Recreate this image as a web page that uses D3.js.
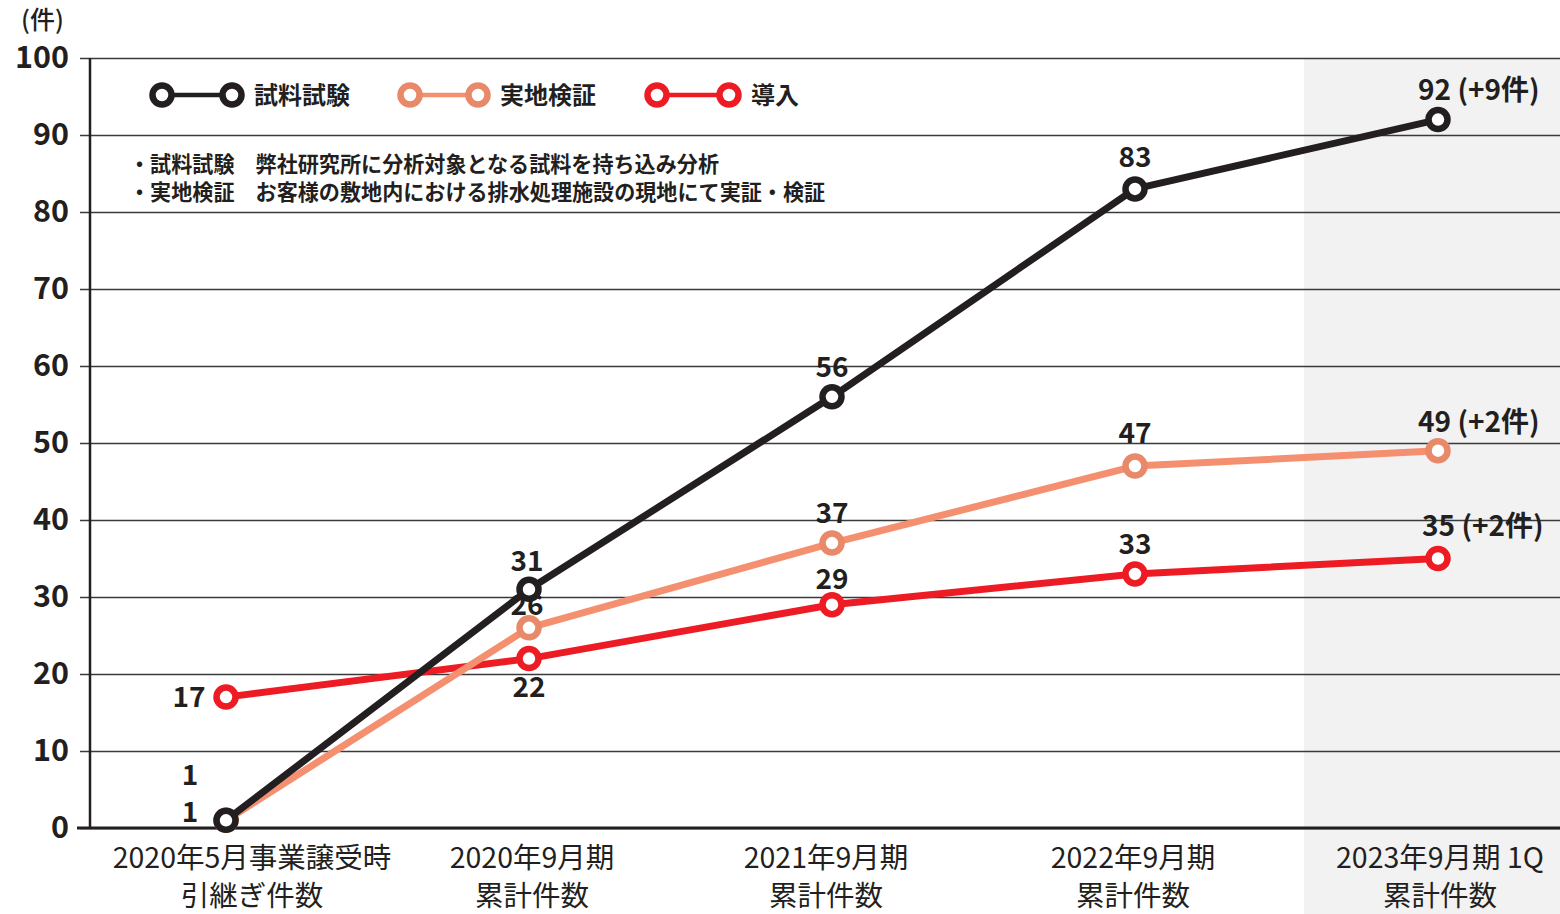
<!DOCTYPE html>
<html>
<head>
<meta charset="utf-8">
<script src="https://cdn.jsdelivr.net/npm/d3@7"></script>
<style>
  html, body { margin: 0; padding: 0; background: #ffffff; }
  svg { display: block; font-family: "Noto Sans CJK JP", "Noto Sans", sans-serif; }
</style>
</head>
<body>
<svg id="chart" width="1560" height="914"></svg>
<script>
// ---- data ----
const categoryLine1 = ["2020年5月事業譲受時", "2020年9月期", "2021年9月期", "2022年9月期", "2023年9月期 1Q"];
const categoryLine2 = ["引継ぎ件数", "累計件数", "累計件数", "累計件数", "累計件数"];
const seriesNames = ["試料試験", "実地検証", "導入"];
const trialValues = [1, 31, 56, 83, 92];
const fieldValues = [1, 26, 37, 47, 49];
const adoptValues = [17, 22, 29, 33, 35];
const lastIncrements = ["+9件", "+2件", "+2件"];
const yTicks = [0, 10, 20, 30, 40, 50, 60, 70, 80, 90, 100];
const unitLabel = "(件)";
const notes = [
  "・試料試験　弊社研究所に分析対象となる試料を持ち込み分析",
  "・実地検証　お客様の敷地内における排水処理施設の現地にて実証・検証"
];

// ---- layout ----
const W = 1560, H = 914;
const axisX = 90, plotTop = 58, plotBottom = 828;
const svg = d3.select("#chart");
const dark = "#231f20";

const x = d3.scalePoint().domain(d3.range(categoryLine1.length)).range([226, 1438]);
const y = d3.scaleLinear().domain([0, 100]).range([plotBottom, plotTop]);

// shaded latest period
svg.append("rect")
  .attr("x", x(4) - 134).attr("y", plotTop)
  .attr("width", W - (x(4) - 134)).attr("height", H - plotTop)
  .attr("fill", "#f2f2f2");

// grid + y axis
const yAxis = d3.axisLeft(y).tickValues(yTicks).tickSize(-(W - axisX)).tickPadding(21).tickFormat(d3.format("d"));
const gy = svg.append("g").attr("transform", `translate(${axisX},0)`).call(yAxis);
gy.select(".domain").remove();
gy.selectAll(".tick line").attr("stroke", "#3a3a3a").attr("stroke-width", 1.3).attr("x1", -10);
gy.selectAll(".tick text")
  .attr("fill", dark).attr("font-size", 30.5).attr("font-weight", 700)
  .attr("font-family", "'Noto Sans CJK JP', sans-serif");

// y axis line
svg.append("line").attr("x1", axisX).attr("x2", axisX).attr("y1", plotTop).attr("y2", plotBottom)
  .attr("stroke", dark).attr("stroke-width", 2.5);
// x axis line
svg.append("line").attr("x1", 77).attr("x2", W).attr("y1", plotBottom).attr("y2", plotBottom)
  .attr("stroke", dark).attr("stroke-width", 3.2);

// unit label
svg.append("text").attr("x", 21).attr("y", 29).text(unitLabel)
  .attr("fill", dark).attr("font-size", 25).attr("font-weight", 500);

// x category labels
const catDx = [26, 3, -6, -2, 2];
const gx = svg.append("g");
categoryLine1.forEach((c, i) => {
  gx.append("text").attr("text-anchor", "middle")
    .attr("x", x(i) + catDx[i]).attr("y", 868)
    .attr("fill", dark).attr("font-size", 28.5).attr("font-weight", 400).text(c);
  gx.append("text").attr("text-anchor", "middle")
    .attr("x", x(i) + catDx[i]).attr("y", 905.5)
    .attr("fill", dark).attr("font-size", 28.5).attr("font-weight", 400).text(categoryLine2[i]);
});

// notes
notes.forEach((n, i) => {
  svg.append("text").attr("x", 129).attr("y", 172 + i * 28).text(n)
    .attr("fill", dark).attr("font-size", 21.1).attr("font-weight", 700);
});

// series
const series = [
  { name: seriesNames[2], values: adoptValues, line: "#ed1c24", mark: "#ed1c24", inc: lastIncrements[2],
    offs: [[-37, 0], [0, 28], [0, -26], [0, -30], [-16, -33, "start"]] },
  { name: seriesNames[1], values: fieldValues, line: "#f4906f", mark: "#e8896a", inc: lastIncrements[1],
    offs: [[-36, -8], [-2, -23], [0, -30], [0, -33], [-20, -29, "start"]] },
  { name: seriesNames[0], values: trialValues, line: dark, mark: dark, inc: lastIncrements[0],
    offs: [[-36, -45], [-2, -28], [0, -30], [0, -32], [-20, -30, "start"]] }
];

const lineGen = d3.line().x((d, i) => x(i)).y(d => y(d));
const gLines = svg.append("g");
const gLabels = svg.append("g");
series.forEach(s => {
  gLines.append("path").datum(s.values).attr("d", lineGen)
    .attr("fill", "none").attr("stroke", s.line).attr("stroke-width", 7).attr("stroke-linejoin", "round");
  gLines.selectAll(null).data(s.values).enter().append("circle")
    .attr("cx", (d, i) => x(i)).attr("cy", d => y(d)).attr("r", 9.5)
    .attr("fill", "#ffffff").attr("stroke", s.mark).attr("stroke-width", 6.5);
  s.values.forEach((v, i) => {
    const o = s.offs[i];
    const last = i === s.values.length - 1;
    gLabels.append("text")
      .attr("x", x(i) + o[0]).attr("y", y(v) + o[1])
      .attr("dy", "0.36em")
      .attr("text-anchor", o[2] || "middle")
      .attr("fill", dark).attr("font-size", 28).attr("font-weight", 700)
      .text(last ? `${v} (${s.inc})` : `${v}`);
  });
});

// legend
const legendItems = [
  { name: seriesNames[0], line: dark, mark: dark, x1: 162, x2: 232 },
  { name: seriesNames[1], line: "#f4906f", mark: "#e8896a", x1: 410, x2: 478 },
  { name: seriesNames[2], line: "#ed1c24", mark: "#ed1c24", x1: 657, x2: 729 }
];
const ly = 95;
const gLeg = svg.append("g");
legendItems.forEach(l => {
  gLeg.append("line").attr("x1", l.x1).attr("x2", l.x2).attr("y1", ly).attr("y2", ly)
    .attr("stroke", l.line).attr("stroke-width", 4.5);
  [l.x1, l.x2].forEach(cx => {
    gLeg.append("circle").attr("cx", cx).attr("cy", ly).attr("r", 9.5)
      .attr("fill", "#ffffff").attr("stroke", l.mark).attr("stroke-width", 6.5);
  });
  gLeg.append("text").attr("x", l.x2 + 22).attr("y", ly).attr("dy", "0.36em")
    .attr("fill", dark).attr("font-size", 24).attr("font-weight", 700).text(l.name);
});
</script>
</body>
</html>
